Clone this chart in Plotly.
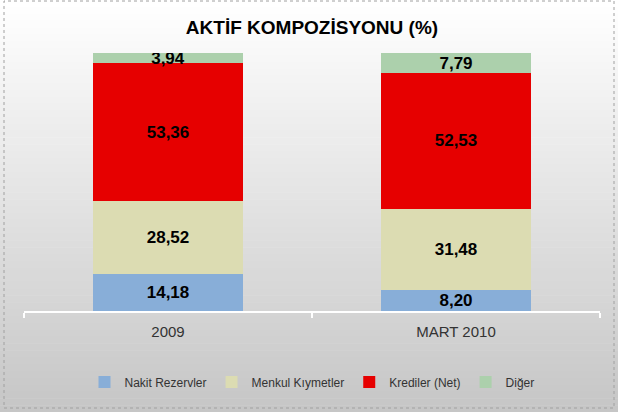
import plotly.graph_objects as go

categories = ["2009", "MART 2010"]
series_names = ["Nakit Rezervler", "Menkul Kıymetler", "Krediler (Net)", "Diğer"]
nakit = [14.18, 8.20]
menkul = [28.52, 31.48]
krediler = [53.36, 52.53]
diger = [3.94, 7.79]
colors = ["#88aed8", "#dcdcb2", "#e60000", "#acd0ac"]

W, H = 618, 412
ml, mr, mt, mb = 24, 18, 53, 101
pw, ph = W - ml - mr, H - mt - mb

def px_x(p):
    return (p - ml) / pw

def px_y(p):
    return (H - mb - p) / ph

fig = go.Figure()
for name, vals, col in zip(series_names, [nakit, menkul, krediler, diger], colors):
    fig.add_trace(go.Bar(
        x=categories, y=vals, name=name,
        marker=dict(color=col, line=dict(width=0)),
        texttemplate="%{y:.2f}", textposition="inside",
        insidetextanchor="middle", textangle=0,
        textfont=dict(family="Liberation Sans, Arial", size=17, color="#000000", weight="bold"),
        hoverinfo="skip",
    ))

shapes = []
n = 60
for i in range(n):
    p0 = H * i / n
    p1 = H * (i + 1) / n + 0.5
    t = (i + 0.5) / n
    v = int(round(255 - (255 - 198) * t))
    c = f"rgb({v},{v},{v})"
    shapes.append(dict(type="rect", xref="paper", yref="paper",
                       x0=px_x(0), x1=px_x(W), y0=px_y(p1), y1=px_y(p0),
                       fillcolor=c, line=dict(width=0), layer="below"))
shapes.append(dict(type="rect", xref="paper", yref="paper",
                   x0=px_x(4), x1=px_x(614), y0=px_y(408), y1=px_y(1),
                   fillcolor="rgba(0,0,0,0)",
                   line=dict(color="#a0a0a0", width=1, dash="dot"), layer="above"))

fig.update_layout(
    width=W, height=H,
    margin=dict(l=ml, r=mr, t=mt, b=mb),
    barmode="stack", bargap=0.476,
    separators=",.",
    paper_bgcolor="#ffffff", plot_bgcolor="rgba(0,0,0,0)",
    shapes=shapes,
    uniformtext=dict(minsize=17, mode="show"),
    title=dict(text="<b>AKTİF KOMPOZİSYONU (%)</b>", x=0.5, xref="paper",
               xanchor="center", y=1 - 27 / H, yanchor="middle",
               font=dict(family="Liberation Sans, Arial", size=19, color="#000000")),
    xaxis=dict(showline=True, linecolor="#ffffff", linewidth=2,
               ticks="outside", tickson="boundaries", tickcolor="#ffffff",
               ticklen=5, tickwidth=2, showgrid=False, zeroline=False,
               ticklabelstandoff=6,
               tickfont=dict(family="Liberation Sans, Arial", size=15, color="#333333")),
    yaxis=dict(visible=False, range=[0, 100]),
    legend=dict(orientation="h", x=0.5, xanchor="center", y=px_y(382), yanchor="middle",
                font=dict(family="Liberation Sans, Arial", size=12, color="#333333"),
                bgcolor="rgba(0,0,0,0)", itemwidth=30, traceorder="normal"),
    showlegend=True,
)

fig.write_html("out.html")
